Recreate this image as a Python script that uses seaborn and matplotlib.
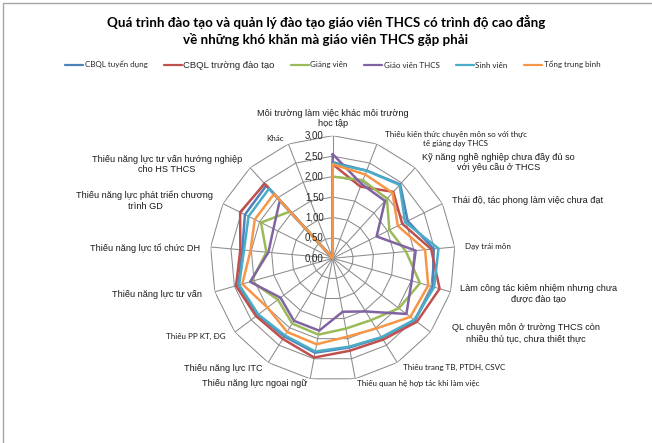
import numpy as np
import pandas as pd
import matplotlib
matplotlib.use('Agg')
import matplotlib.pyplot as plt
import seaborn as sns

categories = [
    "Môi trường làm việc khác môi trường\nhọc tập",
    "Thiếu kiến thức chuyên môn so với thực\ntế giảng dạy THCS",
    "Kỹ năng nghề nghiệp chưa đầy đủ so\nvới yêu cầu ở THCS",
    "Thái độ, tác phong làm việc chưa đạt",
    "Dạy trái môn",
    "Làm công tác kiêm nhiệm nhưng chưa\nđược đào tạo",
    "QL chuyên môn ở trường THCS còn\nnhiều thủ tục, chưa thiết thực",
    "Thiếu trang TB, PTDH, CSVC",
    "Thiếu quan hệ hợp tác khi làm việc",
    "Thiếu năng lực ngoại ngữ",
    "Thiếu năng lực ITC",
    "Thiếu PP KT, ĐG",
    "Thiếu năng lực tư vấn",
    "Thiếu năng lực tổ chức DH",
    "Thiếu năng lực phát triển chương\ntrình GD",
    "Thiếu năng lực tư vấn hướng nghiệp\ncho HS THCS",
    "Khác",
]

series_names = ["CBQL tuyển dụng", "CBQL trường đào tạo", "Giảng viên",
                "Giáo viên THCS", "Sinh viên", "Tổng trung bình"]

cbql_tuyen_dung = [2.35, 2.30, 2.45, 2.05, 2.48, 2.55, 2.52, 2.28, 2.22, 2.35, 2.25, 2.30, 2.40, 2.22, 2.40, 2.41, 0.0]
cbql_truong_dao_tao = [2.30, 1.88, 2.20, 1.90, 2.42, 2.72, 2.58, 2.34, 2.30, 2.47, 2.32, 2.35, 2.46, 2.27, 2.53, 2.47, 0.0]
giang_vien = [2.00, 2.05, 1.97, 1.55, 1.80, 2.22, 2.03, 1.78, 1.75, 1.90, 1.88, 1.68, 2.07, 1.63, 1.96, 1.55, 0.0]
giao_vien_thcs = [2.55, 1.95, 1.90, 1.20, 2.04, 2.01, 2.26, 1.53, 1.33, 1.80, 1.80, 1.60, 2.10, 1.58, 1.62, 1.92, 0.0]
sinh_vien = [2.32, 2.30, 2.43, 1.98, 2.60, 2.58, 2.50, 2.27, 2.20, 2.32, 2.22, 2.28, 2.38, 2.18, 2.30, 2.31, 0.0]
tong_trung_binh = [2.30, 2.20, 2.17, 1.78, 2.27, 2.43, 2.38, 2.02, 1.95, 2.14, 2.12, 2.00, 2.30, 2.02, 2.13, 2.13, 0.0]

series_values = [cbql_tuyen_dung, cbql_truong_dao_tao, giang_vien,
                 giao_vien_thcs, sinh_vien, tong_trung_binh]
colors = ["#4F81BD", "#C0504D", "#9BBB59", "#8064A2", "#4BACC6", "#F79646"]

levels = [0.0, 0.5, 1.0, 1.5, 2.0, 2.5, 3.0]
level_labels = ["0,00", "0,50", "1,00", "1,50", "2,00", "2,50", "3,00"]

sns.set_theme(style="white")
plt.rcParams['font.family'] = ['Liberation Sans', 'DejaVu Sans']

W, H = 652, 443
fig = plt.figure(figsize=(W / 100, H / 100), dpi=100)
fig.patch.set_facecolor('white')

cx, cy, R = 332.7, 258.3, 122.6
ax = fig.add_axes([(cx - R) / W, (H - cy - R) / H, 2 * R / W, 2 * R / H], projection='polar')
ax.set_theta_zero_location('N')
ax.set_theta_direction(-1)
ax.set_facecolor('none')

n = len(categories)
angles = np.linspace(0, 2 * np.pi, n, endpoint=False)
closed = np.append(angles, 2 * np.pi)

grid_col = '#8C8C8C'
for lvl in levels[1:]:
    ax.plot(closed, [lvl] * (n + 1), color=grid_col, lw=0.75, zorder=1)
for a in angles:
    ax.plot([a, a], [0, 3], color=grid_col, lw=0.75, zorder=1)

rows = []
for name, vals in zip(series_names, series_values):
    vv = list(vals) + [vals[0]]
    for i, (a, v) in enumerate(zip(closed, vv)):
        rows.append({"series": name, "theta": a, "value": v, "order": i})
df = pd.DataFrame(rows)

sns.lineplot(data=df, x="theta", y="value", hue="series", hue_order=series_names,
             palette=dict(zip(series_names, colors)), sort=False, estimator=None,
             linewidth=1.8, ax=ax, legend=False, zorder=3)

ax.set_ylim(0, 3)
ax.set_xticks([])
ax.set_yticks([])
ax.grid(False)
ax.spines['polar'].set_visible(False)
ax.set_xlabel('')
ax.set_ylabel('')

for lvl, lab in zip(levels, level_labels):
    ax.annotate(lab, xy=(0, lvl), xytext=(-9, 0), textcoords='offset pixels',
                ha='right', va='center', fontsize=7, color='#262626', zorder=5)

# label placement: (dx, dy px offset from r=3 vertex, ha, small-font?)
label_pos = [
    (0, 17, 'center', False),
    (79, 5, 'center', True),
    (83, 5, 'center', False),
    (10, 3, 'left', False),
    (10, 0, 'left', True),
    (88, -2, 'center', False),
    (95, -1, 'center', False),
    (6, -5, 'left', True),
    (2, -5, 'left', True),
    (-3, -5, 'right', False),
    (-6, -6, 'right', False),
    (-9, -4, 'right', True),
    (-13, -3, 'right', False),
    (-10, -1, 'right', False),
    (-78, 3, 'center', False),
    (-83, 3, 'center', False),
    (-13, 5, 'center', True),
]
for a, lab, (dx, dy, ha, small) in zip(angles, categories, label_pos):
    if small:
        fam = ['Lato', 'DejaVu Sans']
        fs = 5.8
    else:
        fam = ['Liberation Sans', 'DejaVu Sans']
        fs = 6.6
    ax.annotate(lab, xy=(a, 3.0), xytext=(dx, dy), textcoords='offset pixels',
                ha=ha, va='center', multialignment='center', fontsize=fs,
                family=fam, color='#1a1a1a', annotation_clip=False, linespacing=1.2)

fig.text(0.5, 1 - 30.5 / H,
         "Quá trình đào tạo và quản lý đào tạo giáo viên THCS có trình độ cao đẳng\n"
         "về những khó khăn mà giáo viên THCS gặp phải",
         ha='center', va='center', fontsize=9.6, fontweight='bold',
         family=['Lato', 'DejaVu Sans'], color='black', linespacing=1.35)

handles = [plt.Line2D([], [], color=c, lw=1.6) for c in colors]
leg = fig.legend(handles, series_names, loc='center', bbox_to_anchor=(0.51, 1 - 65 / H),
                 ncol=6, frameon=False, handlelength=2.3, handletextpad=0.15,
                 columnspacing=2.0, prop={'family': ['Lato', 'DejaVu Sans'], 'size': 5.8})
for i, t in enumerate(leg.get_texts()):
    if i == 1:
        t.set_fontsize(6.8)
        t.set_family(['Liberation Sans', 'DejaVu Sans'])

border = '#A6A6A6'
fig.add_artist(plt.Line2D([3 / W, 3 / W], [0, 1 - 3 / H], color=border, lw=1, transform=fig.transFigure))
fig.add_artist(plt.Line2D([3 / W, 1], [1 - 3 / H, 1 - 3 / H], color=border, lw=1, transform=fig.transFigure))

fig.savefig('out.png', dpi=100, facecolor='white')
